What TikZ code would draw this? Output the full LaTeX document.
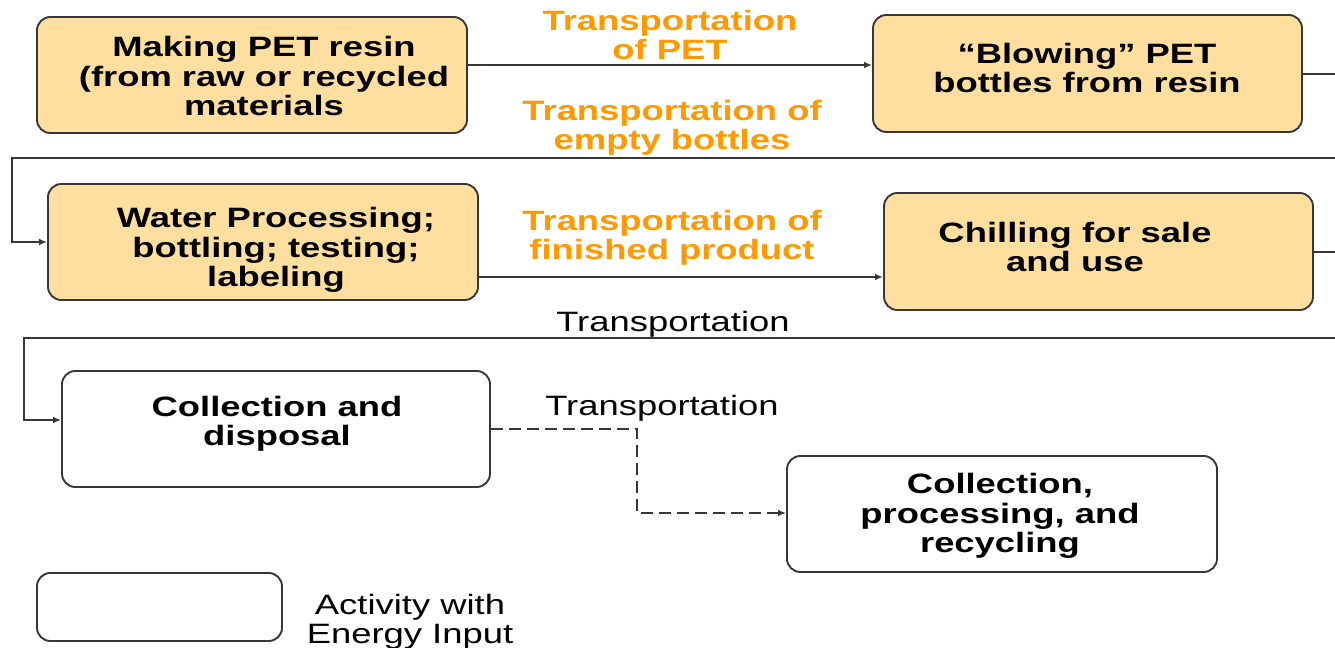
\documentclass[tikz,border=0pt]{standalone}
\usepackage{fontspec}
\setmainfont[FakeStretch=1.3]{Liberation Sans}
\usetikzlibrary{arrows.meta,fit}
\definecolor{boxfill}{RGB}{255,223,160}
\definecolor{orangetxt}{RGB}{255,153,0}
\definecolor{edge}{RGB}{55,55,55}
\begin{document}
\begin{tikzpicture}[x=0.75pt,y=-0.75pt,
  box/.style={draw=edge, line width=1.4pt, rounded corners=10pt, inner sep=0pt, fill=boxfill},
  wbox/.style={box, fill=white},
  btxt/.style={font=\fontsize{21}{22}\selectfont\bfseries, align=center, inner sep=0pt},
  otxt/.style={btxt, text=orangetxt},
  ntxt/.style={font=\fontsize{21}{22}\selectfont, align=center, inner sep=0pt},
  conn/.style={draw=edge, line width=1.4pt},
  arr/.style={conn, -{Latex[length=6pt,width=5pt]}},
  darr/.style={arr, dash pattern=on 9pt off 4.5pt}]
\useasboundingbox (0,0) rectangle (1335,648);

% boxes
\node[box, fit={(37,17)(467,133)}] (b1) {};
\node[box, fit={(873,15)(1302,132)}] (b2) {};
\node[box, fit={(48,184)(478,300)}] (b3) {};
\node[box, fit={(884,193)(1313,310)}] (b4) {};
\node[wbox, fit={(62,371)(490,487)}] (b5) {};
\node[wbox, fit={(787,456)(1217,572)}] (b6) {};
\node[wbox, fit={(37,573)(282,641)}] (lg) {};

% box texts
\node[btxt] (t1) at (264,76) {Making PET resin\\(from raw or recycled\\materials};
\node[btxt] (t2) at (1087,68) {“Blowing” PET\\bottles from resin};
\node[btxt] (t3) at (276,250) {Water Processing;\\bottling; testing;\\labeling};
\node[btxt] (t4) at (1075,247) {Chilling for sale\\and use};
\node[btxt] (t5) at (277,424) {Collection and\\disposal};
\node[btxt] (t6) at (1000,516) {Collection,\\processing, and\\recycling};
\node[ntxt] (tl) at (410,622) {Activity with\\Energy Input};

% labels
\node[otxt] (l1) at (670,35) {Transportation\\of PET};
\node[otxt] (l2) at (672,128) {Transportation of\\empty bottles};
\node[otxt] (l3) at (672,238) {Transportation of\\finished product};
\node[ntxt] (l4) at (673,324) {Transportation};
\node[ntxt] (l5) at (662,408) {Transportation};

% helper coordinates
\coordinate (y1) at (0,65);
\coordinate (r1) at (1335,74);
\coordinate (e1) at (1335,158);
\coordinate (c1) at (12,158);
\coordinate (y3) at (0,242);
\coordinate (y4) at (0,277);
\coordinate (r2) at (1335,252);
\coordinate (e2) at (1335,338);
\coordinate (c2) at (24,338);
\coordinate (y5) at (0,420);
\coordinate (y6) at (0,429);
\coordinate (k1) at (637,429);
\coordinate (k2) at (637,513);
\coordinate (y7) at (0,513);

% connectors
\draw[arr] (b1.east |- y1) -- (b2.west |- y1);
\draw[conn] (b2.east |- r1) -- (r1);
\draw[arr] (e1) -- (c1) -- (c1 |- y3) -- (b3.west |- y3);
\draw[arr] (b3.east |- y4) -- (b4.west |- y4);
\draw[conn] (b4.east |- r2) -- (r2);
\draw[arr] (e2) -- (c2) -- (c2 |- y5) -- (b5.west |- y5);
\draw[darr] (b5.east |- y6) -- (k1) -- (k2) -- (b6.west |- y7);
\end{tikzpicture}
\end{document}
